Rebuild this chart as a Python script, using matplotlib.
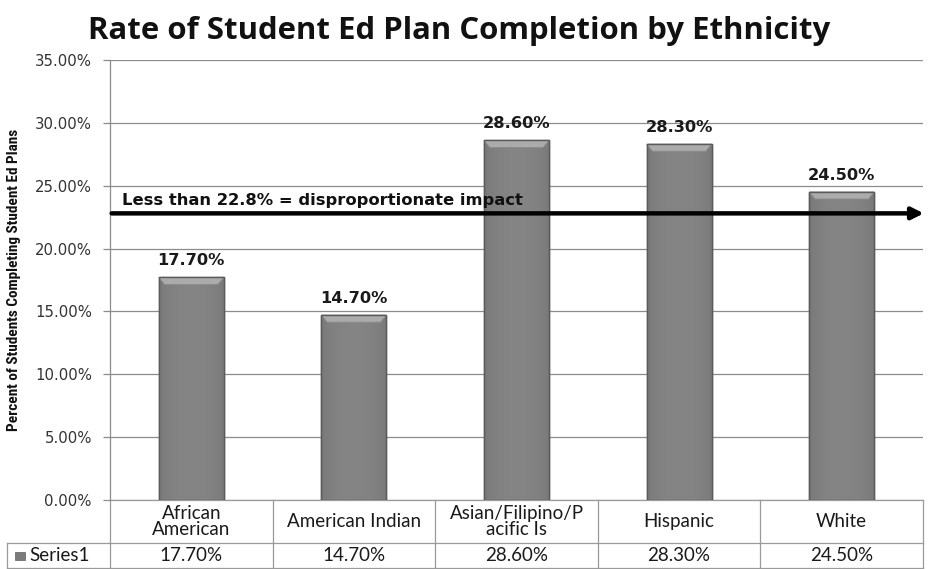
import matplotlib
matplotlib.use("Agg")
import matplotlib.pyplot as plt
from matplotlib import font_manager
from matplotlib.patches import Rectangle, Polygon
from matplotlib.transforms import blended_transform_factory
import numpy as np

# ---- data ----
categories = ["African\nAmerican", "American Indian", "Asian/Filipino/P\nacific Is", "Hispanic", "White"]
rates = [17.70, 14.70, 28.60, 28.30, 24.50]
series_name = "Series1"
threshold = 22.8
threshold_label = "Less than 22.8% = disproportionate impact"
title = "Rate of Student Ed Plan Completion by Ethnicity"
ylabel = "Percent of Students Completing Student Ed Plans"
yticks = [0, 5, 10, 15, 20, 25, 30, 35]

# pick a condensed face for the axis title when one is available
ylabel_props = dict(family="Lato", fontweight="bold", fontsize=10.4)
_fonts = font_manager.fontManager.ttflist
for _name in ["Roboto Condensed", "Open Sans Condensed", "Liberation Sans Narrow"]:
    if any(f.name == _name for f in _fonts):
        ylabel_props = dict(family=_name, fontsize=11.0, fontweight="bold")
        break
else:
    for f in _fonts:
        if f.name in ("DejaVu Sans", "Noto Sans", "Open Sans") and "condensed" in str(f.stretch).lower():
            ylabel_props = dict(family=f.name, fontstretch="condensed", fontsize=10.2,
                                fontweight="bold")
            break
table_font = "Lato"

W, H = 939, 569
fig = plt.figure(figsize=(W / 100, H / 100), dpi=100)
L, R, T, B = 110, 923, 60, 500
ax = fig.add_axes([L / W, 1 - B / H, (R - L) / W, (B - T) / H])

n = len(categories)
x = np.arange(n)
ax.set_xlim(-0.5, n - 0.5)
ax.set_ylim(0, 35)

# grid and axis frame
for yv in yticks:
    ax.axhline(yv, color="#8c8c8c", lw=0.9, zorder=0)
for s in ["top", "right", "bottom"]:
    ax.spines[s].set_visible(False)
ax.spines["left"].set_color("#8c8c8c")
ax.spines["left"].set_linewidth(0.9)
ax.set_yticks(yticks)
ax.set_yticklabels([f"{v:.2f}%" for v in yticks], fontsize=10.7, color="#333333",
                   family="DejaVu Sans")
ax.tick_params(axis="y", length=5, color="#8c8c8c", width=0.9, pad=8)
ax.set_xticks([])

# bars with a soft horizontal shading and a bevelled top
bw = 0.4
grad = np.linspace(0, 1, 64)
shade = 0.47 + 0.05 * np.sin(np.pi * grad) ** 0.6
img = np.dstack([shade, shade, shade]).reshape(1, -1, 3)
px_per_unit = (B - T) / 35.0
cap = 7 / px_per_unit
for xi, v in zip(x, rates):
    x0, x1 = xi - bw / 2, xi + bw / 2
    rect = Rectangle((x0, 0), bw, v, facecolor="#7b7b7b", edgecolor="#5e5e5e", lw=1.0, zorder=2)
    ax.add_patch(rect)
    im = ax.imshow(img, extent=[x0, x1, 0, v], aspect="auto", zorder=2.1, interpolation="bicubic")
    im.set_clip_path(rect)
    inset = bw * 0.09
    ax.add_patch(Polygon([[x0, v], [x1, v], [x1 - inset, v - cap], [x0 + inset, v - cap]],
                         closed=True, facecolor="#ababab", edgecolor="#8a8a8a", lw=0.6, zorder=2.2))
    ax.add_patch(Rectangle((x0, 0), bw, v, facecolor="none", edgecolor="#5a5a5a", lw=1.0, zorder=2.3))
    ax.text(xi, v + 0.75, f"{v:.2f}%", ha="center", va="bottom", fontsize=11.7,
            fontweight="bold", family="DejaVu Sans", color="#1a1a1a", zorder=4)

ax.set_xlim(-0.5, n - 0.5)
ax.set_ylim(0, 35)

# threshold arrow
ax.annotate("", xy=(n - 0.5 + 0.005, threshold), xytext=(-0.49, threshold),
            arrowprops=dict(arrowstyle="-|>,head_length=0.7,head_width=0.35", lw=3.2,
                            color="black", shrinkA=0, shrinkB=0), annotation_clip=False, zorder=5)
ax.text(-0.425, threshold + 0.45, threshold_label, ha="left", va="bottom", fontsize=11.8,
        fontweight="bold", family="DejaVu Sans", color="#111111", zorder=5)

# title and y label
fig.text(459 / W, 1 - 31 / H, title, ha="center", va="center", fontsize=22.4,
         fontweight="bold", family="Open Sans", color="#111111")
fig.text(14 / W, 1 - 280 / H, ylabel, ha="center", va="center", rotation=90,
         color="#111111", **ylabel_props)

# data table beneath the plot
tr = blended_transform_factory(ax.transData, fig.transFigure)
row1_top, row1_bot, row2_bot = 1 - 500 / H, 1 - 543 / H, 1 - 568 / H
gc = "#9a9a9a"
tkw = dict(color=gc, lw=0.9, clip_on=False)
ax.plot([-0.5, n - 0.5], [row1_top, row1_top], transform=tr, **tkw)
ax.plot([-0.5, n - 0.5], [row1_bot, row1_bot], transform=tr, **tkw)
ax.plot([-0.5, n - 0.5], [row2_bot, row2_bot], transform=tr, **tkw)
for b in np.arange(n + 1) - 0.5:
    ax.plot([b, b], [row2_bot, row1_top], transform=tr, **tkw)
for xi, c, v in zip(x, categories, rates):
    ax.text(xi, (row1_top + row1_bot) / 2, c, transform=tr, ha="center", va="center",
            fontsize=13.5, family=table_font, color="#1a1a1a", linespacing=0.95)
    ax.text(xi, (row1_bot + row2_bot) / 2, f"{v:.2f}%", transform=tr, ha="center",
            va="center", fontsize=13.5, family=table_font, color="#1a1a1a")

# series label cell
fx0, fx1 = 7 / W, L / W
fig.add_artist(plt.Line2D([fx0, fx1], [row1_bot, row1_bot], color=gc, lw=0.9))
fig.add_artist(plt.Line2D([fx0, fx1], [row2_bot, row2_bot], color=gc, lw=0.9))
fig.add_artist(plt.Line2D([fx0, fx0], [row2_bot, row1_bot], color=gc, lw=0.9))
ymid = (row1_bot + row2_bot) / 2
fig.add_artist(Rectangle((15 / W, ymid - 4 / H), 10 / W, 8 / H, facecolor="#7b7b7b",
                         edgecolor="#5e5e5e", lw=0.5, transform=fig.transFigure))
fig.text(29 / W, ymid, series_name, ha="left", va="center", fontsize=13.5,
         family=table_font, color="#1a1a1a")

fig.savefig("out.png", dpi=100, facecolor="white")
